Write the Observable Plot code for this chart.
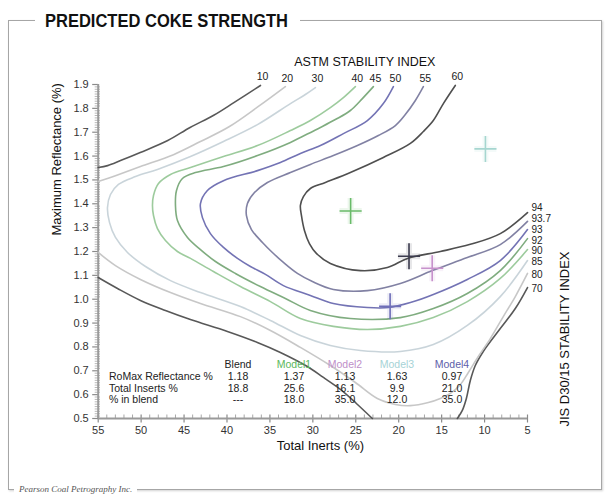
<!DOCTYPE html>
<html>
<head>
<meta charset="utf-8">
<script src="https://cdn.jsdelivr.net/npm/d3@7"></script>
<script src="https://cdn.jsdelivr.net/npm/@observablehq/plot@0.6"></script>
<style>
  body { margin: 0; background: #fff; }
  #wrap { position: relative; width: 608px; height: 494px; overflow: hidden; background: #fff;
          font-family: "Liberation Sans", Arial, sans-serif; }
  #chart { position: absolute; left: 0; top: 0; }
  #frame { position: absolute; left: 8px; top: 20px; width: 594px; height: 470px; box-sizing: border-box;
           border: 1.5px solid #a6a6a6; box-shadow: 1px 1px 2px rgba(0,0,0,0.18); pointer-events: none; }
  #title { position: absolute; left: 35px; top: 9px; width: 265px; height: 24px; background: #fff; }
  #title span { position: absolute; left: 10px; top: 3px; font-weight: bold; font-size: 18px; line-height: 18px;
                white-space: nowrap; transform: scaleX(0.917); transform-origin: left center; color: #111; }
  #caption { position: absolute; left: 14px; top: 484px; padding: 0 5px; background: #fff;
             font-family: "Liberation Serif", "Times New Roman", serif; font-style: italic; font-size: 9px;
             line-height: 10px; color: #555; white-space: nowrap; }
  .cell { position: absolute; font-size: 10.5px; line-height: 12px; color: #222; white-space: nowrap; }
</style>
</head>
<body>
<div id="wrap">
  <div id="chart"></div>
  <div id="frame"></div>
  <div id="title"><span>PREDICTED COKE STRENGTH</span></div>
  <div id="caption">Pearson Coal Petrography Inc.</div>
</div>
<script>
// ---------- data (Total Inerts %, Maximum Reflectance %) ----------
const astmLevels = ["10", "20", "30", "40", "45", "50", "55", "60"];
const jisLevels  = ["70", "80", "85", "90", "92", "93", "93.7", "94"];

const c10Upper = [[36.1,1.896],[39.2,1.824],[41.6,1.770],[44.3,1.720],[46.9,1.665],[50.1,1.615],[52.4,1.581],[53.9,1.560],[55,1.552]];
const c10Lower = [[55,1.091],[52.75,1.045],[50.08,0.995],[47.17,0.953],[44.26,0.915],[39.95,0.865],[36.46,0.819],[33.78,0.777],[30.64,0.718],[28.77,0.672],[26.79,0.622],[24.93,0.563],[23.07,0.5]];
const c70Right = [[13.17,0.5],[12.59,0.534],[12.12,0.584],[11.66,0.659],[11.08,0.722],[10.15,0.781],[8.17,0.877],[6.42,0.961],[5.0,1.049]];
const c20Upper = [[33.2,1.891],[36.34,1.808],[39.71,1.724],[43.09,1.661],[46.23,1.606],[50.08,1.556],[52.99,1.518],[55,1.493]];
const c20Lower = [[55,1.196],[52.99,1.141],[50.08,1.083],[46.58,1.028],[43.09,0.982],[38.43,0.927],[34.94,0.869],[31.45,0.798],[27.96,0.722],[25.05,0.651],[22.49,0.584],[20.39,0.559],[18.64,0.554],[16.55,0.567],[15.15,0.584],[13.99,0.605],[12.82,0.642],[11.89,0.693],[10.73,0.760],[9.33,0.835],[7.82,0.927],[6.42,1.011],[5.0,1.108]];
const c30 = [[29.70,1.887],[30.87,1.858],[32.61,1.820],[36.45,1.732],[40.41,1.661],[44.25,1.598],[48.10,1.544],[50.66,1.514],[52.64,1.481],[53.57,1.439],[53.92,1.384],[53.68,1.321],[52.99,1.259],[51.59,1.196],[49.49,1.137],[46.58,1.078],[43.09,1.028],[38.43,0.969],[34.94,0.911],[31.45,0.848],[27.96,0.806],[24.46,0.785],[19.81,0.781],[15.97,0.810],[12.01,0.890],[8.17,1.011],[5.0,1.162]];
const c40 = [[25.05,1.891],[26.44,1.845],[27.96,1.803],[30.29,1.749],[32.61,1.707],[36.45,1.644],[40.41,1.598],[44.25,1.552],[46.58,1.523],[47.98,1.485],[48.56,1.435],[48.68,1.393],[48.56,1.351],[48.10,1.296],[47.17,1.246],[45.77,1.200],[44.25,1.171],[41.58,1.116],[38.43,1.053],[34.94,0.990],[31.45,0.919],[27.61,0.886],[23.65,0.873],[19.81,0.886],[15.97,0.923],[12.01,0.990],[8.17,1.087],[5.0,1.208]];
const c45 = [[22.95,1.891],[24.23,1.841],[25.63,1.791],[27.38,1.753],[29.12,1.720],[31.45,1.678],[32.61,1.657],[36.45,1.602],[40.41,1.556],[43.67,1.531],[45.19,1.506],[45.88,1.456],[46.0,1.393],[45.77,1.330],[44.60,1.259],[43.09,1.208],[41.34,1.158],[39.02,1.108],[36.11,1.053],[33.20,1.003],[30.29,0.953],[25.63,0.919],[19.81,0.923],[15.97,0.961],[12.01,1.024],[8.17,1.120],[5.0,1.254]];
const c50 = [[20.62,1.891],[21.79,1.820],[23.65,1.749],[26.44,1.694],[29.12,1.644],[31.45,1.611],[33.78,1.573],[36.45,1.539],[40.41,1.497],[42.28,1.456],[43.09,1.401],[42.86,1.342],[41.93,1.275],[40.41,1.217],[38.78,1.171],[37.27,1.137],[35.52,1.104],[33.43,1.057],[30.29,1.016],[27.61,0.982],[23.65,0.965],[21.20,0.965],[18.64,0.986],[15.97,1.020],[12.01,1.083],[8.17,1.162],[5.0,1.292]];
const c55 = [[17.13,1.891],[18.06,1.833],[19.23,1.774],[20.39,1.728],[22.37,1.686],[24.81,1.644],[27.61,1.602],[30.29,1.565],[32.61,1.531],[35.29,1.489],[36.80,1.447],[37.62,1.401],[37.74,1.351],[37.15,1.292],[35.87,1.238],[34.71,1.196],[33.43,1.154],[31.80,1.108],[30.05,1.074],[27.61,1.041],[23.65,1.036],[19.81,1.066],[16.08,1.120],[12.01,1.175],[8.17,1.229],[5.0,1.326]];
const c60 = [[13.41,1.896],[14.80,1.820],[15.97,1.749],[17.13,1.703],[18.64,1.653],[21.79,1.594],[25.63,1.531],[28.54,1.489],[30.29,1.464],[31.10,1.430],[31.45,1.393],[31.33,1.351],[30.98,1.288],[30.40,1.233],[29.59,1.192],[27.96,1.150],[24.46,1.120],[21.32,1.133],[18.9,1.172],[15.15,1.200],[11.66,1.230],[8.17,1.275],[5.0,1.363]];

const samples      = ["Blend", "Model1", "Model2", "Model3", "Model4"];
const romax        = [1.18, 1.37, 1.13, 1.63, 0.97];
const totalInerts  = [18.8, 25.6, 16.1, 9.9, 21.0];
const pctInBlend   = ["---", "18.0", "35.0", "12.0", "35.0"];
const rowLabels    = ["RoMax Reflectance %", "Total Inserts %", "% in blend"];

const xTicks = [55, 50, 45, 40, 35, 30, 25, 20, 15, 10, 5];
const yTicks = [0.5, 0.6, 0.7, 0.8, 0.9, 1.0, 1.1, 1.2, 1.3, 1.4, 1.5, 1.6, 1.7, 1.8, 1.9];

// ---------- assemble ----------
const curveDefs = [
  ["c10u", "k10", c10Upper], ["c10l", "k10", c10Lower], ["c70r", "k10", c70Right],
  ["c20u", "k20", c20Upper], ["c20l", "k20", c20Lower],
  ["c30", "k30", c30], ["c40", "k40", c40], ["c45", "k45", c45],
  ["c50", "k50", c50], ["c55", "k55", c55], ["c60", "k60", c60]
];
const lineRows = curveDefs.flatMap(([id, g, pts]) => pts.map(([x, y]) => ({id, g, x, y})));

const topCurves = [c10Upper, c20Upper, c30, c40, c45, c50, c55, c60];
const rightCurves = [c70Right, c20Lower, c30, c40, c45, c50, c55, c60];
const topLabels = topCurves.map((c, i) => ({x: c[0][0], y: c[0][1], t: astmLevels[i]}));

// right-hand labels: start at the line ends, then nudge apart so they do not collide
const minGap = 0.046;
const ends = rightCurves.map(c => c[c.length - 1][1]);
const placed = ends.slice();
for (let i = 1; i < placed.length; i++) placed[i] = Math.max(placed[i], placed[i - 1] + minGap);
const shift = (d3.mean(ends) - d3.mean(placed));
const rightLabels = rightCurves.map((c, i) => ({x: c[c.length - 1][0], y: placed[i] + shift, t: jisLevels[i]}));

const sampleRows = samples.map((s, i) => ({g: s, x: totalInerts[i], y: romax[i]}));

const xMinor = d3.range(5, 56, 1).filter(v => v % 5 !== 0);
const yMinor = d3.range(50, 191, 1).filter(v => v % 10 !== 0).map(v => v / 100);

const colorKeys = ["k10","k20","k30","k40","k45","k50","k55","k60","Blend","Model1","Model2","Model3","Model4"];
const colorVals = ["#4f4f4f","#c4c4c4","#c6d2d8","#98c898","#78a878","#6c6cb0","#7a7a9e","#464646",
                   "#3b3b4e","#69bb69","#c792cc","#a6d6d0","#6f6fb8"];

// custom symbols (size = r*r*PI)
const rad = s => Math.sqrt(s / Math.PI);
const symCross = {draw(ctx, s) { const r = rad(s); ctx.moveTo(-r * 0.85, 0); ctx.lineTo(r * 0.85, 0); ctx.moveTo(0, -r); ctx.lineTo(0, r); }};
const symLeftMinor = {draw(ctx, s) { const r = rad(s); ctx.moveTo(-r, 0); ctx.lineTo(r * 0.5, 0); }};
const symLeftMajor = {draw(ctx, s) { const r = rad(s); ctx.moveTo(-r, 0); ctx.lineTo(0, 0); }};
const symUpMinor = {draw(ctx, s) { const r = rad(s); ctx.moveTo(0, 0); ctx.lineTo(0, -r); }};
const symUpMajor = {draw(ctx, s) { const r = rad(s); ctx.moveTo(0, r); ctx.lineTo(0, -r); }};

const font = '"Liberation Sans", Arial, sans-serif';

const chart = Plot.plot({
  width: 608, height: 494,
  marginLeft: 97.7, marginRight: 81, marginTop: 84, marginBottom: 76,
  style: {background: "transparent", fontFamily: font, fontSize: "11px", color: "#333", overflow: "visible"},
  x: {domain: [55, 5], ticks: xTicks, tickSize: 0, tickPadding: 8, label: null, tickFormat: d => String(d)},
  y: {domain: [0.5, 1.9], ticks: yTicks, tickSize: 0, tickPadding: 9.5, label: null, tickFormat: d => d.toFixed(1)},
  color: {domain: colorKeys, range: colorVals},
  marks: [
    // axis rulers
    Plot.dot(yMinor, {x: () => 55, y: d => d, symbol: symLeftMinor, r: 3.5, fill: "none", stroke: "#b0b0b0", strokeWidth: 0.9}),
    Plot.dot(yTicks, {x: () => 55, y: d => d, symbol: symLeftMajor, r: 6, fill: "none", stroke: "#8a8a8a", strokeWidth: 1.2}),
    Plot.dot(xMinor, {x: d => d, y: () => 0.5, symbol: symUpMinor, r: 4, fill: "none", stroke: "#a8a8a8", strokeWidth: 1}),
    Plot.dot(xTicks, {x: d => d, y: () => 0.5, symbol: symUpMajor, r: 4, fill: "none", stroke: "#8a8a8a", strokeWidth: 1.2}),
    Plot.ruleX([55], {stroke: "#9a9a9a", strokeWidth: 2}),
    Plot.ruleY([0.5], {stroke: "#9a9a9a", strokeWidth: 2.2}),
    // contour lines
    Plot.line(lineRows, {x: "x", y: "y", z: "id", stroke: "g", strokeWidth: 1.6, curve: "catmull-rom", strokeOpacity: 0.95}),
    // sample crosses (soft halo + cross)
    Plot.dot(sampleRows, {x: "x", y: "y", symbol: symCross, r: 13, fill: "none", stroke: "g", strokeWidth: 6, strokeOpacity: 0.12}),
    Plot.dot(sampleRows, {x: "x", y: "y", symbol: symCross, r: 13, fill: "none", stroke: "g", strokeWidth: 1.6}),
    // contour labels
    Plot.text(topLabels, {x: "x", y: "y", text: "t", dy: -8.5, dx: 2, fontSize: 10.5, fill: "#222"}),
    Plot.text(rightLabels, {x: "x", y: "y", text: "t", textAnchor: "start", dx: 4, fontSize: 10, fill: "#222"}),
    // axis titles
    Plot.text(["ASTM STABILITY INDEX"], {frameAnchor: "top", text: d => d, dx: 52, dy: -27, fontSize: 12.5, fill: "#111"}),
    Plot.text(["JIS D30/15 STABILITY INDEX"], {frameAnchor: "right", text: d => d, rotate: -90, dx: 37, fontSize: 13, fill: "#111"}),
    Plot.text(["Maximum Reflectance (%)"], {frameAnchor: "left", text: d => d, rotate: -90, dx: -41, dy: -16, fontSize: 13, fill: "#111"}),
    Plot.text(["Total Inerts (%)"], {frameAnchor: "bottom", text: d => d, dx: 7.5, dy: 31, fontSize: 13, fill: "#111"})
  ]
});
document.getElementById("chart").appendChild(chart);

// ---------- data table overlay ----------
const wrap = document.getElementById("wrap");
const colX = [238, 294, 345, 397, 452];
const rowY = [364, 376, 388, 399];
const headColors = ["#222", "#5cb85c", "#c08fc9", "#a6d3d6", "#5e5eaa"];
function cell(text, cx, cy, color, align) {
  const el = document.createElement("div");
  el.className = "cell";
  el.textContent = text;
  el.style.left = cx + "px";
  el.style.top = cy + "px";
  el.style.transform = align === "start" ? "translate(0,-50%)" : "translate(-50%,-50%)";
  if (color) el.style.color = color;
  wrap.insertBefore(el, document.getElementById("frame"));
}
samples.forEach((s, i) => cell(s, colX[i], rowY[0], headColors[i]));
rowLabels.forEach((t, j) => cell(t, 109, rowY[j + 1], null, "start"));
samples.forEach((s, i) => {
  cell(romax[i].toFixed(2), colX[i], rowY[1]);
  cell(totalInerts[i].toFixed(1), colX[i], rowY[2]);
  cell(pctInBlend[i], colX[i], rowY[3]);
});
</script>
</body>
</html>
